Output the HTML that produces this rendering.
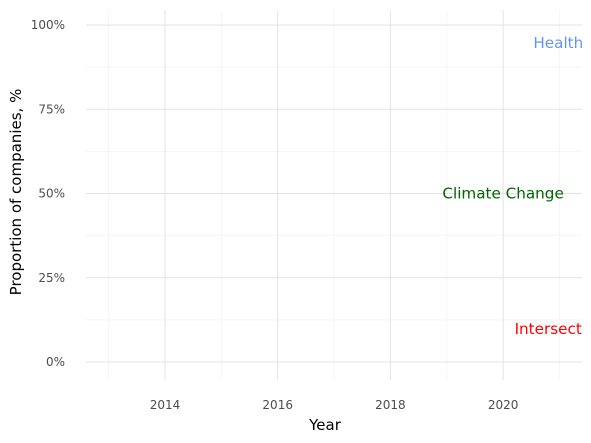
<!DOCTYPE html>
<html><head><meta charset="utf-8"><style>
body{margin:0;background:#fff}
svg{display:block;font-family:"DejaVu Sans","Liberation Sans",sans-serif}
</style></head><body>
<svg id="c" width="591" height="443"></svg>
<script>
const labelNames=["Health","Climate Change","Intersect"];
const labelYears=[2020.98,2020.0,2020.8];
const labelValues=[94.7,50,9.8];
const labelColors=["#6495ed","#006400","#ff0000"];
const xTicks=[2014,2016,2018,2020];
const xMinor=[2013,2015,2017,2019,2021];
const yTicks=[0,25,50,75,100];
const yMinor=[12.5,37.5,62.5,87.5];
const NS="http://www.w3.org/2000/svg";
const svg=document.getElementById('c');
const L=86,R=582,T=10,B=380;
const x=v=>165+(v-2014)*56.35;
const y=v=>362-v*3.37;
function mk(t,a){const e=document.createElementNS(NS,t);for(const k in a)e.setAttribute(k,a[k]);svg.appendChild(e);return e;}
yMinor.forEach(v=>{const e=mk('line',{x1:L,x2:R,y1:y(v),y2:y(v),stroke:'#f5f5f5','stroke-width':1});

});
xMinor.forEach(v=>{const e=mk('line',{x1:x(v),x2:x(v),y1:T,y2:B,stroke:'#f5f5f5','stroke-width':1});

});
yTicks.forEach(v=>{const e=mk('line',{x1:L,x2:R,y1:y(v),y2:y(v),stroke:'#e3e3e3','stroke-width':1});


const t=mk('text',{x:65,y:y(v)+4,'text-anchor':'end','font-size':12,fill:'#4d4d4d'});t.textContent=v+'%';

});
xTicks.forEach(v=>{const e=mk('line',{x1:x(v),x2:x(v),y1:T,y2:B,stroke:'#e3e3e3','stroke-width':1});


const t=mk('text',{x:x(v),y:409,'text-anchor':'middle','font-size':12,fill:'#4d4d4d'});t.textContent=v;

});
labelNames.forEach((n,i)=>{const t=mk('text',{x:x(labelYears[i]),y:y(labelValues[i])+5,'text-anchor':'middle','font-size':15.2,fill:labelColors[i]});t.textContent=n;

});
let t=mk('text',{x:325,y:430,'text-anchor':'middle','font-size':15,fill:'#000'});t.textContent='Year';


t=mk('text',{x:0,y:0,'text-anchor':'middle','font-size':15,fill:'#000',transform:'translate(21,192) rotate(-90)'});t.textContent='Proportion of companies, %';


</script>
</body></html>
